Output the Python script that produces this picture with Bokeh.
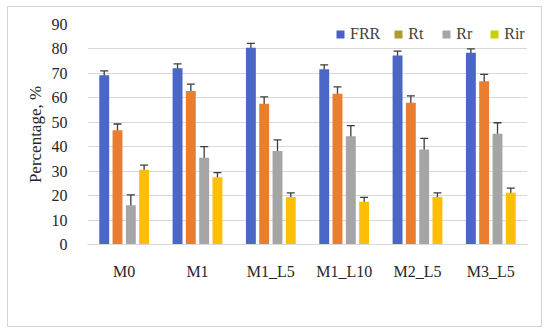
from bokeh.plotting import figure
from bokeh.models import ColumnDataSource, Whisker, Legend, LegendItem, FactorRange
from bokeh.transform import dodge
from bokeh.embed import file_html
from bokeh.resources import INLINE

categories = ["M0", "M1", "M1_L5", "M1_L10", "M2_L5", "M3_L5"]
series = ["FRR", "Rt", "Rr", "Rir"]
frr = [69.2, 72.1, 80.5, 71.7, 77.3, 78.4]
rt = [46.7, 62.8, 57.6, 61.7, 58.0, 66.8]
rr = [16.1, 35.5, 38.3, 44.3, 38.9, 45.3]
rir = [30.6, 27.5, 19.4, 17.5, 19.4, 21.2]
frr_err = [1.8, 1.8, 1.8, 1.8, 1.8, 1.6]
rt_err = [2.6, 2.8, 2.8, 2.8, 2.8, 2.8]
rr_err = [4.2, 4.5, 4.5, 4.3, 4.5, 4.5]
rir_err = [1.9, 1.9, 1.7, 1.8, 1.7, 1.9]
y_ticks = [0, 10, 20, 30, 40, 50, 60, 70, 80, 90]

bar_colors = ["#4A67C6", "#EA7E30", "#A5A5A5", "#FDBE06"]
legend_colors = ["#4C5FC8", "#B19A30", "#A5A5A5", "#C9D000"]
offsets = [-0.272, -0.091, 0.091, 0.272]

FONT = "Liberation Serif"

p = figure(x_range=FactorRange(*categories, range_padding=0.0), y_range=(0, 90),
           width=535, height=321, output_backend="svg", toolbar_location=None,
           min_border_left=79, min_border_right=16, min_border_top=17, min_border_bottom=84,
           outline_line_color=None)
p.styles = {"border": "1px solid #d4d4d4", "margin": "6px 0 0 7px"}

vals = [frr, rt, rr, rir]
errs = [frr_err, rt_err, rr_err, rir_err]
items = []
for name, v, e, col, lcol, off in zip(series, vals, errs, bar_colors, legend_colors, offsets):
    src = ColumnDataSource(dict(x=categories, top=v,
                                upper=[a + b for a, b in zip(v, e)],
                                lower=[a - b for a, b in zip(v, e)]))
    p.vbar(x=dodge("x", off, range=p.x_range), top="top", width=0.135, source=src,
           fill_color=col, line_color=None)
    w = Whisker(base=dodge("x", off, range=p.x_range), upper="upper", lower="lower", source=src,
                line_color="#3c3c3c", line_width=1.3)
    w.upper_head.size = 8
    w.lower_head.size = 8
    w.upper_head.line_color = "#3c3c3c"
    w.lower_head.line_color = "#3c3c3c"
    w.upper_head.line_width = 1.3
    w.lower_head.line_width = 1.3
    p.add_layout(w)
    dummy = p.vbar(x=[categories[0]], top=[0], bottom=[0], width=0.001,
                   fill_color=lcol, line_color=None)
    items.append(LegendItem(label=name, renderers=[dummy]))

legend = Legend(items=items, orientation="horizontal", location=(248, 201),
                background_fill_alpha=0, border_line_color=None,
                glyph_width=10, glyph_height=10, label_standoff=5, spacing=13,
                label_text_font=FONT, label_text_font_size="16px", label_text_color="#404040",
                margin=0, padding=0)
p.add_layout(legend, "center")

p.xgrid.grid_line_color = None
p.ygrid.grid_line_color = "#d9d9d9"
p.ygrid.grid_line_width = 1
p.yaxis.ticker = y_ticks
p.yaxis.axis_line_color = None
p.yaxis.major_tick_line_color = None
p.yaxis.minor_tick_line_color = None
p.yaxis.major_label_text_font = FONT
p.yaxis.major_label_text_font_size = "16px"
p.yaxis.major_label_text_color = "#262626"
p.yaxis.major_label_standoff = 14
p.yaxis.axis_label = "Percentage, %"
p.yaxis.axis_label_text_font = FONT
p.yaxis.axis_label_text_font_style = "normal"
p.yaxis.axis_label_text_font_size = "17px"
p.yaxis.axis_label_text_color = "#262626"
p.yaxis.axis_label_standoff = 4

p.xaxis.axis_line_color = "#d9d9d9"
p.xaxis.major_tick_line_color = None
p.xaxis.minor_tick_line_color = None
p.xaxis.major_label_text_font = FONT
p.xaxis.major_label_text_font_size = "16px"
p.xaxis.major_label_text_color = "#262626"
p.xaxis.major_label_standoff = 12

html = file_html(p, INLINE)
open("out.html", "w").write(html)
